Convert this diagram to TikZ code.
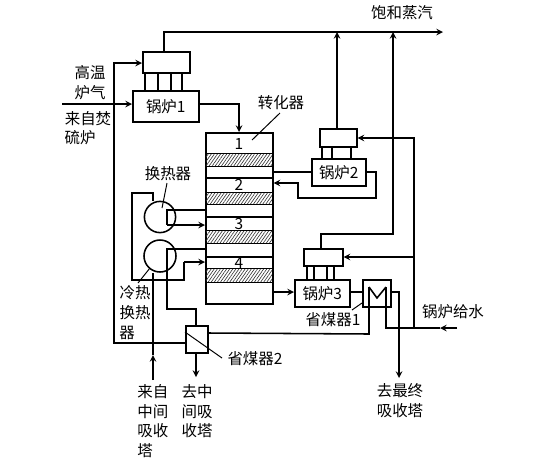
\documentclass[tikz,border=0pt]{standalone}
\usepackage{fontspec}
\newfontfamily\cjk{Noto Sans CJK SC}
\usetikzlibrary{patterns.meta}
\tikzset{
  unitbox/.style={draw, line width=1.1pt, rectangle, inner sep=0pt, anchor=north west},
  wlabel/.style={font=\cjk\fontsize{11}{14.1}\selectfont, inner sep=0pt},
  pipe/.style={line width=1.1pt},
  leader/.style={line width=0.7pt},
  catbed/.style={draw, line width=0.6pt, pattern={Lines[angle=55,distance=1.8pt,line width=0.45pt]}, pattern color=black!80},
}
\begin{document}
\begin{tikzpicture}[>=stealth, x=0.025cm, y=-0.025cm]
\useasboundingbox (0,0) rectangle (558,469);
% converter
\node[unitbox, minimum width=1.675cm, minimum height=4.275cm] (conv) at (205,132) {};
\path[catbed] (205,153) rectangle (272,166);
\path[catbed] (205,192) rectangle (272,204);
\path[catbed] (205,230) rectangle (272,243);
\path[catbed] (205,268) rectangle (272,282);
\draw[pipe] (205,178) -- (272,178);
\draw[pipe] (205,217) -- (272,217);
\draw[pipe] (205,257) -- (272,257);
\node[wlabel] (n1) at (239,144) {1};
\node[wlabel] (n2) at (239,185) {2};
\node[wlabel] (n3) at (239,224) {3};
\node[wlabel] (n4) at (239,263) {4};
% boilers and drums
\node[unitbox, minimum width=1.65cm, minimum height=0.775cm] (b1) at (132,90) {};
\node[wlabel] at (b1.center) {锅炉1};
\node[unitbox, minimum width=1.175cm, minimum height=0.525cm] (d1) at (142,51) {};
\node[unitbox, minimum width=1.35cm, minimum height=0.675cm] (b2) at (311,158) {};
\node[wlabel] at (b2.center) {锅炉2};
\node[unitbox, minimum width=0.925cm, minimum height=0.45cm] (d2) at (319,128) {};
\node[unitbox, minimum width=1.375cm, minimum height=0.675cm] (b3) at (294,279) {};
\node[wlabel] at (b3.center) {锅炉3};
\node[unitbox, minimum width=0.975cm, minimum height=0.425cm] (d3) at (303,248) {};
\foreach \x in {145,158,171,182} \draw[pipe] (\x,72) -- (\x,90);
\foreach \x in {322,332,351} \draw[pipe] (\x,146) -- (\x,158);
\foreach \x in {307,314,327,334} \draw[pipe] (\x,265) -- (\x,279);
% economisers
\node[unitbox, minimum width=0.7cm, minimum height=0.675cm] (e1) at (362,279) {};
\node[unitbox, minimum width=0.55cm, minimum height=0.675cm] (e2) at (185,325) {};
% heat exchangers
\node[draw, circle, line width=1.1pt, minimum size=0.78cm, inner sep=0pt] (hx1) at (160,217) {};
\node[draw, circle, line width=1.1pt, minimum size=0.8cm, inner sep=0pt] (hx2) at (160,256) {};
% free ends
\coordinate (steam) at (443,32);
\coordinate (feed) at (457,328);
\coordinate (gasin) at (62,104);
\coordinate (toend) at (399,378);
\coordinate (tomid) at (196,377);
\coordinate (frommid) at (153,380);
% steam lines
\draw[pipe,->] (d1.north -| 164,0) -- (164,32) -- (steam);
\draw[pipe,->] (d2.north -| 337,0) -- (337,32);
\draw[pipe,->] (d3.north -| 321,0) -- (321,234) -- (393,234) -- (393,32);
% gas path
\draw[pipe,->] (gasin) -- (b1.west |- gasin);
\draw[pipe,->] (b1.east |- gasin) -- (239,104) -- (conv.north -| 239,0);
\draw[pipe,->] (e2.west |- 0,343) -- (114,343) -- (114,63) -- (d1.west |- 0,63);
\draw[pipe] (conv.east |- 0,172) -- (b2.west |- 0,172);
\draw[pipe,->] (b2.east |- 0,172) -- (376,172) -- (376,198) -- (298,198) -- (298,183) -- (conv.east |- 0,183);
\draw[pipe,->] (conv.east |- 0,292) -- (b3.west |- 0,292);
\draw[pipe] (b3.east |- 0,292) -- (e1.west |- 0,292);
\draw[pipe,->] (e1.east |- 0,292) -- (399,292) -- (toend);
% feed water
\draw[pipe,->] (feed) -- (440,328);
\draw[pipe] (440,328) -- (386,328) -- (386,287);
\draw[pipe,->] (414,328) -- (414,138) -- (d2.east |- 0,138);
\draw[pipe,->] (414,257) -- (d3.east |- 0,257);
% economiser coil
\draw[pipe] (369,287) -- (377,298) -- (386,287);
\draw[pipe] (e2.east |- 0,333) -- (369,334) -- (369,287);
% exchanger pipes
\draw[pipe] (hx1.north -| 153,0) -- (153,193) -- (132,193) -- (132,280) -- (184,280) -- (184,262);
\draw[pipe,->] (184,262) -- (conv.west |- 0,262);
\draw[pipe] (conv.west |- 0,210) -- (167,210) -- (167,225);
\draw[pipe,->] (167,225) -- (conv.west |- 0,225);
\draw[pipe] (conv.west |- 0,249) -- (167,249) -- (167,309) -- (196,309) -- (e2.north -| 196,0);
\draw[pipe,->] (e2.south -| 196,0) -- (tomid);
\draw[pipe,->] (frommid) -- (153,355);
\draw[pipe] (153,355) -- (hx2.south -| 153,0);
% leaders
\draw[leader] (185,332) -- (222,358);
\draw[leader] (280,113) -- (252,140);
\draw[leader] (167,183) -- (162,208);
\draw[leader] (138,283) -- (150,268);
\draw[leader] (352,310) -- (362,303);
% labels
\node[wlabel] (l1) at (90,73) {高温};
\node[wlabel] (l2) at (90,93) {炉气};
\node[wlabel] (l3) at (88,119) {来自焚};
\node[wlabel] (l4) at (80,138) {硫炉};
\node[wlabel] (l5) at (281,103) {转化器};
\node[wlabel] (l6) at (168,174) {换热器};
\node[wlabel] (l7) at (135,293) {冷热};
\node[wlabel] (l8) at (135,313) {换热};
\node[wlabel] (l9) at (127,333) {器};
\node[wlabel] (l10) at (333,320) {省煤器1};
\node[wlabel] (l11) at (255,359) {省煤器2};
\node[wlabel] (l12) at (453,312) {锅炉给水};
\node[wlabel] (l13) at (402,13) {饱和蒸汽};
\node[wlabel, align=left, anchor=north west] (l14) at (137,384) {来自\\中间\\吸收\\塔};
\node[wlabel, align=center, anchor=north] (l15) at (197,384) {去中\\间吸\\收塔};
\node[wlabel, align=center, anchor=north] (l16) at (400,383) {去最终\\吸收塔};
\end{tikzpicture}
\end{document}
